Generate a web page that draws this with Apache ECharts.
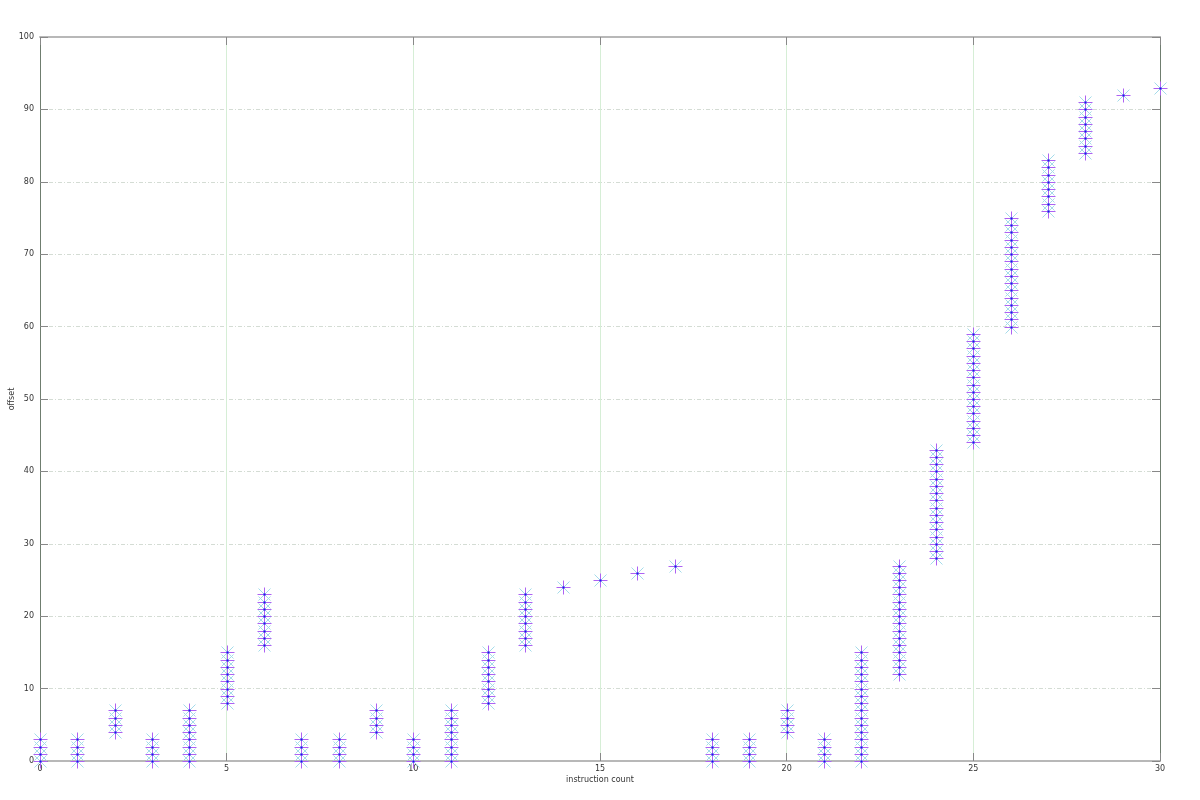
<!DOCTYPE html>
<html><head><meta charset="utf-8">
<script src="https://cdn.jsdelivr.net/npm/echarts@6/dist/echarts.min.js"></script>
<style>html,body{margin:0;padding:0;background:#fff}#chart{width:1200px;height:800px}</style>
</head><body><div id="chart"></div>
<script>
// instruction index and the byte range (first..last offset) touched by each
const instructions = [0,1,2,3,4,5,6,7,8,9,10,11,12,13,14,15,16,17,18,19,20,21,22,23,24,25,26,27,28,29,30];
const accessStart  = [0,0,4,0,0,8,16,0,0,4,0,0,8,16,24,25,26,27,0,0,4,0,0,12,28,44,60,76,84,92,93];
const accessEnd    = [3,3,7,3,7,15,23,3,3,7,3,7,15,23,24,25,26,27,3,3,7,3,15,27,43,59,75,83,91,92,93];
const xTicks = [0,5,10,15,20,25,30];
const yTicks = [0,10,20,30,40,50,60,70,80,90,100];

const points = [];
instructions.forEach((ins, i) => {
  for (let o = accessStart[i]; o <= accessEnd[i]; o++) points.push([ins, o]);
});

const CYAN = '#a4dbea', PURPLE = '#ad62f3', BLUE = '#1a1aee';
const labelStyle = {fontFamily: 'DejaVu Sans', fontSize: 8, color: '#333'};

function mkSeries(kind) {
  return {
    type: 'custom', data: points, clip: false, silent: true,
    renderItem: function (params, api) {
      const p = api.coord([api.value(0), api.value(1)]);
      const x = Math.round(p[0]) + 0.5, y = Math.round(p[1]) + 0.5;
      if (kind === 'x') {
        const a = 6;
        return {type: 'group', children: [
          {type: 'line', shape: {x1: x - a, y1: y - a, x2: x + a, y2: y + a}, style: {stroke: CYAN, lineWidth: 1}},
          {type: 'line', shape: {x1: x - a, y1: y + a, x2: x + a, y2: y - a}, style: {stroke: CYAN, lineWidth: 1}}
        ]};
      } else if (kind === 'plus') {
        const b = 7;
        return {type: 'group', children: [
          {type: 'line', shape: {x1: x - b, y1: y, x2: x + b, y2: y}, style: {stroke: PURPLE, lineWidth: 1}},
          {type: 'line', shape: {x1: x, y1: y - b, x2: x, y2: y + b}, style: {stroke: PURPLE, lineWidth: 1}}
        ]};
      } else {
        return {type: 'rect', shape: {x: x - 1, y: y - 1, width: 2, height: 2}, style: {fill: BLUE}};
      }
    }
  };
}

const chart = echarts.init(document.getElementById('chart'), null, {renderer: 'canvas'});
chart.setOption({
  animation: false,
  backgroundColor: '#fff',
  grid: {left: 40, right: 40, top: 37, bottom: 39, containLabel: false, outerBoundsMode: 'none'},
  xAxis: [
    {type: 'value', min: 0, max: 30, interval: 5, position: 'bottom',
     name: 'instruction count', nameLocation: 'middle', nameGap: 15, nameMoveOverlap: false,
     nameTextStyle: labelStyle,
     axisLine: {onZero: false, lineStyle: {color: '#b8b8b8', width: 2}},
     axisTick: {inside: true, length: 8, lineStyle: {color: '#888', width: 1}},
     axisLabel: Object.assign({margin: 4, formatter: v => xTicks.includes(v) ? String(v) : ''}, labelStyle),
     splitLine: {show: true, lineStyle: {color: '#d6eed6', width: 1, type: 'solid'}}},
    {type: 'value', min: 0, max: 30, interval: 5, position: 'top',
     axisLine: {onZero: false, lineStyle: {color: '#b8b8b8', width: 2}},
     axisTick: {inside: true, length: 8, lineStyle: {color: '#888', width: 1}},
     axisLabel: {show: false}, splitLine: {show: false}}
  ],
  yAxis: [
    {type: 'value', min: 0, max: 100, interval: 10, position: 'left',
     name: 'offset', nameLocation: 'middle', nameGap: 24, nameRotate: 90, nameMoveOverlap: false,
     nameTextStyle: labelStyle,
     axisLine: {onZero: false, lineStyle: {color: '#6f7d6f', width: 1}},
     axisTick: {inside: true, length: 8, lineStyle: {color: '#888', width: 1}},
     axisLabel: Object.assign({margin: 6, formatter: v => yTicks.includes(v) ? String(v) : ''}, labelStyle),
     splitLine: {show: true, lineStyle: {color: '#d4dcd4', width: 1, type: [4, 2, 1, 2]}}},
    {type: 'value', min: 0, max: 100, interval: 10, position: 'right',
     axisLine: {onZero: false, lineStyle: {color: '#6f7d6f', width: 1}},
     axisTick: {inside: true, length: 8, lineStyle: {color: '#888', width: 1}},
     axisLabel: {show: false}, splitLine: {show: false}}
  ],
  series: [mkSeries('x'), mkSeries('plus'), mkSeries('dot')]
});
</script>
</body></html>
